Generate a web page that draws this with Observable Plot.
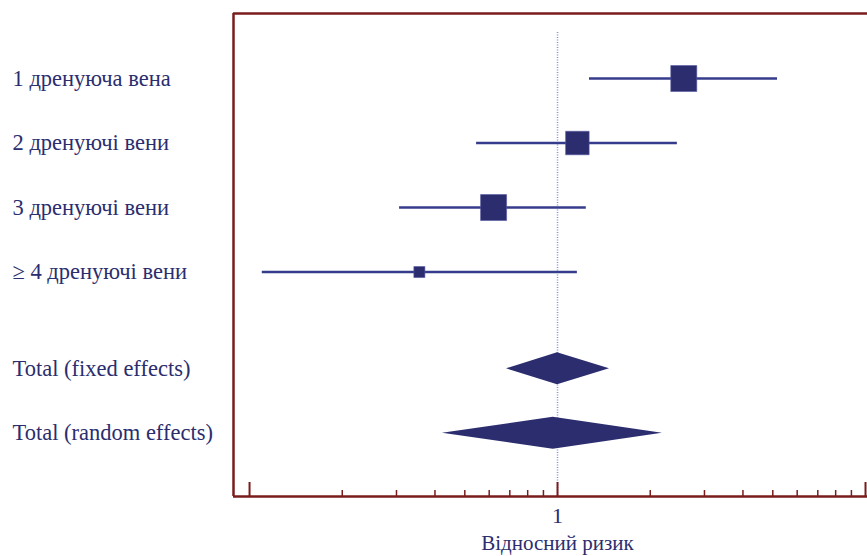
<!DOCTYPE html>
<html><head><meta charset="utf-8">
<script src="https://cdn.jsdelivr.net/npm/d3@7"></script>
<script src="https://cdn.jsdelivr.net/npm/@observablehq/plot@0.6"></script>
<style>html,body{margin:0;padding:0;background:#fff;overflow:hidden} svg{display:block}</style>
</head><body><div id="chart"></div>
<script>
// ---- data ----
const studies = ["1 дренуюча вена", "2 дренуючі вени", "3 дренуючі вени", "≥ 4 дренуючі вени"];
const studyRR = [2.57, 1.16, 0.62, 0.356];
const studyLo = [1.27, 0.546, 0.307, 0.110];
const studyHi = [5.18, 2.45, 1.24, 1.16];
const studyWeight = [33.4, 27.3, 33.4, 6.0];
const totals = ["Total (fixed effects)", "Total (random effects)"];
const totalRR = [1.0, 0.968];
const totalLo = [0.683, 0.423];
const totalHi = [1.475, 2.19];
const majorTicks = [0.1, 1, 10];
const minorTicks = [0.2, 0.3, 0.4, 0.5, 0.6, 0.7, 0.8, 0.9, 2, 3, 4, 5, 6, 7, 8, 9];
const tickLabels = [{value: 1, label: "1"}];
const xLabel = "Відносний ризик";

// ---- layout ----
const navy = "#2b2d6e";
const lineBlue = "#363c8c";
const frameRed = "#7b1c1c";
const serif = "'Liberation Serif', 'DejaVu Serif', serif";
const W = 867, H = 556, mL = 233, mT = 13, mB = 60, mR = 0;
const plotH = H - mT - mB;

const studyRows = studies.map((name, i) => ({name, row: i, rr: studyRR[i], lo: studyLo[i], hi: studyHi[i], w: studyWeight[i]}));
const totalRows = totals.map((name, j) => ({name, row: studies.length + 0.5 + j, rr: totalRR[j], lo: totalLo[j], hi: totalHi[j]}));
const half = 0.248;
const diamond = totalRows.flatMap(t => [
  {id: t.name, y: t.row - half, x1: t.rr, x2: t.rr},
  {id: t.name, y: t.row, x1: t.lo, x2: t.hi},
  {id: t.name, y: t.row + half, x1: t.rr, x2: t.rr}
]);
const labels = [...studyRows, ...totalRows];

const xDomain = [0.0887, 10.15];
const yDomain = [6.48, -1.008];

const chart = Plot.plot({
  width: W, height: H,
  marginLeft: mL, marginRight: mR, marginTop: mT, marginBottom: mB,
  x: {type: "log", domain: xDomain, axis: null},
  y: {type: "linear", domain: yDomain, axis: null},
  r: {type: "sqrt", domain: [0, 33.4], range: [0, 14.67]},
  marks: [
    // dotted reference line at 1
    Plot.ruleX([1], {x: d => d, insetTop: 19, stroke: "#8a8fcf", strokeWidth: 1.5, strokeDasharray: "1,1.5"}),
    // frame
    Plot.ruleX([xDomain[0]], {x: d => d, stroke: frameRed, strokeWidth: 2.5}),
    Plot.ruleY([yDomain[1]], {y: d => d, stroke: frameRed, strokeWidth: 2.5}),
    Plot.ruleY([yDomain[0]], {y: d => d, stroke: frameRed, strokeWidth: 2.5}),
    // ticks
    Plot.ruleX(majorTicks, {x: d => d, insetTop: plotH - 14, stroke: frameRed, strokeWidth: 2}),
    Plot.ruleX(minorTicks, {x: d => d, insetTop: plotH - 6, stroke: frameRed, strokeWidth: 1.5}),
    Plot.text(tickLabels, {x: "value", text: "label", frameAnchor: "bottom", dy: 26, fontSize: 22, fontFamily: serif, fill: navy}),
    Plot.text([xLabel], {x: () => 1, text: d => d, frameAnchor: "bottom", dy: 53, fontSize: 21, fontFamily: serif, fill: navy}),
    // CIs and squares
    Plot.ruleY(studyRows, {y: "row", x1: "lo", x2: "hi", stroke: lineBlue, strokeWidth: 2.5}),
    Plot.dot(studyRows, {x: "rr", y: "row", r: "w", symbol: "square", fill: navy, stroke: "#5558a0", strokeWidth: 0.6}),
    // diamonds
    Plot.areaX(diamond, {y: "y", x1: "x1", x2: "x2", z: "id", fill: navy}),
    // row labels
    Plot.text(labels, {y: "row", text: "name", frameAnchor: "left", textAnchor: "start", dx: -221, fontSize: 22.5, fontFamily: serif, fill: navy})
  ]
});
document.getElementById("chart").appendChild(chart);
</script>
</body></html>
